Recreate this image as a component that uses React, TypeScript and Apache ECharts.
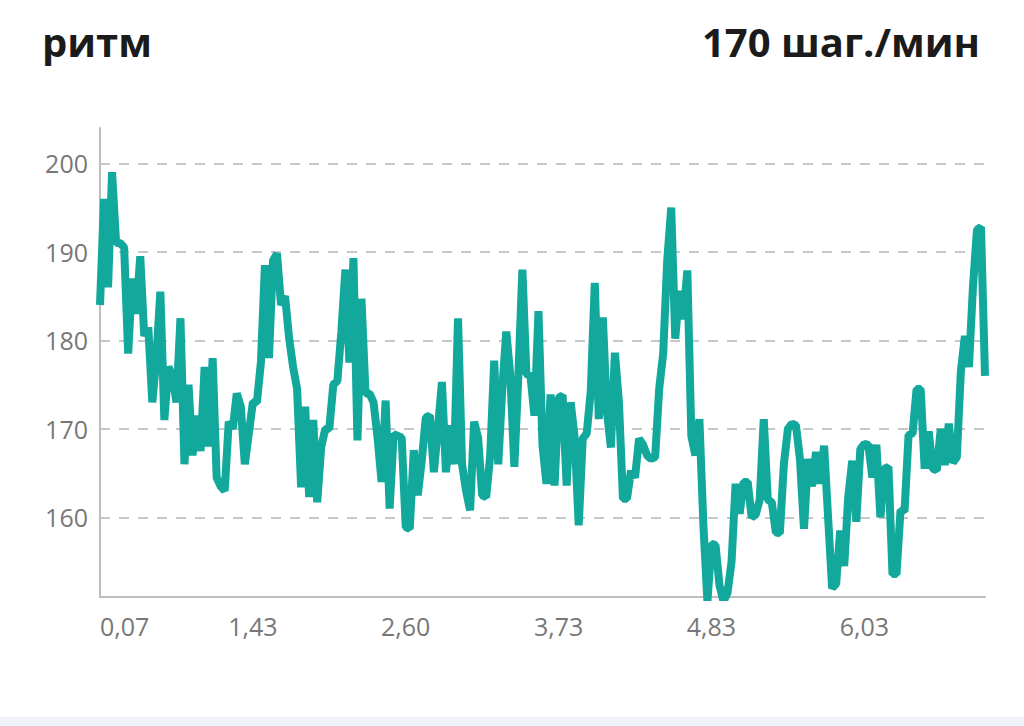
import React, { useEffect, useRef } from "react";
import * as echarts from "echarts";

const titleLeft = "ритм";
const titleRight = "170 шаг./мин";

const tickLabels = ["0,07", "1,43", "2,60", "3,73", "4,83", "6,03"];
const LABEL_STEP = 38;

const cadence = [
  184, 196, 186, 199, 191, 191, 190.5, 178.5, 187, 183,
  189.5, 180.5, 181.5, 173, 178, 185.5, 171, 177, 176, 173,
  182.5, 166, 175, 167, 171.5, 167.5, 177, 168, 178, 164.5,
  163.5, 163, 170.8, 170, 174, 172.5, 166, 169.5, 173, 173,
  177.5, 188.5, 178, 189, 189.8, 184, 185, 180.3, 177, 174.5,
  163.4, 172.5, 162.3, 171, 161.7, 168, 170, 170, 175, 175.4,
  181, 188, 177.5, 189.3, 168.7, 184.7, 174, 174, 173, 169,
  164, 173.2, 161, 169.4, 169.2, 169, 158.9, 158.7, 167.6, 162.5,
  166.5, 171.3, 171.5, 165.1, 170, 175.3, 165.1, 170.4, 166, 182.5,
  166, 163, 160.8, 170.8, 169, 162.5, 162.3, 167, 177.7, 166,
  174.5, 181, 176, 165.7, 176, 188, 176.2, 176, 171.5, 183.3,
  168.1, 163.8, 173.9, 163.6, 173.5, 173.8, 163.6, 173, 169, 159.1,
  168.9, 169.5, 174.3, 186.5, 171.1, 182.6, 172, 167.9, 178.6, 173,
  162.1, 162.1, 165.3, 164.5, 168.9, 168.2, 167, 166.6, 166.8, 174.5,
  178.5, 189, 195, 180.2, 185.6, 182.4, 187.9, 169.2, 167, 171.1,
  159.1, 150.5, 157, 156.9, 152.3, 150.5, 151.5, 155, 163.8, 160.4,
  164, 164, 160, 160.3, 162, 171.1, 162, 161.7, 158.3, 158.2,
  166, 170, 170.6, 170.4, 166.6, 158.7, 166.6, 163.5, 167.4, 163.8,
  168.1, 160, 152, 152.5, 158.5, 154.5, 162.3, 166.4, 159.5, 167.7,
  168.3, 168.2, 164.5, 168.2, 160, 165.5, 165.7, 153.6, 153.6, 160.8,
  160.7, 169.3, 169.5, 174.5, 174.5, 165.5, 169.7, 165.5, 165.3, 170,
  165.9, 170.6, 166.2, 166.8, 176.5, 180.5, 177, 186, 192.5, 192.8,
  176,
];

const categories = cadence.map((_, i) => String(i));

export default function App() {
  const ref = useRef<HTMLDivElement>(null);

  useEffect(() => {
    if (!ref.current) return;
    const chart = echarts.init(ref.current, undefined, { renderer: "svg" });
    const titleStyle = {
      fontFamily: "Open Sans",
      fontSize: 40,
      fontWeight: "bold",
      color: "#1b1b1b",
    };
    chart.setOption({
      animation: false,
      backgroundColor: "#ffffff",
      title: [
        { text: titleLeft, left: 37, top: 16, textStyle: titleStyle },
        { text: titleRight, right: 39, top: 16, textStyle: titleStyle },
      ],
      grid: { left: 100, right: 39, top: 128, bottom: 129 },
      xAxis: {
        type: "category",
        data: categories,
        boundaryGap: false,
        axisTick: { show: false },
        axisLine: { lineStyle: { color: "#bdbdbd", width: 2 } },
        axisLabel: {
          interval: LABEL_STEP - 1,
          margin: 16,
          alignMinLabel: "left",
          color: "#777777",
          fontFamily: "Open Sans",
          fontSize: 25,
          formatter: (_v: string, idx: number) =>
            tickLabels[Math.round(idx / LABEL_STEP)] ?? "",
        },
        splitLine: { show: false },
      },
      yAxis: {
        type: "value",
        min: 151,
        max: 204,
        axisLine: { show: true, lineStyle: { color: "#bdbdbd", width: 2 } },
        axisTick: { show: false },
        axisLabel: {
          showMinLabel: false,
          showMaxLabel: false,
          margin: 12,
          color: "#777777",
          fontFamily: "Open Sans",
          fontSize: 25,
        },
        splitLine: {
          show: true,
          showMinLine: false,
          showMaxLine: false,
          lineStyle: { color: "#b5b5b5", type: [10, 9], width: 1.5 },
        },
      },
      series: [
        {
          type: "line",
          data: cadence,
          symbol: "none",
          lineStyle: { color: "#12a89b", width: 8, join: "bevel" },
          z: 3,
        },
      ],
      graphic: [
        {
          type: "rect",
          shape: { x: 0, y: 717, width: 1024, height: 9 },
          style: { fill: "#eef2f6" },
          silent: true,
        },
      ],
    });
    return () => chart.dispose();
  }, []);

  return (
    <div
      ref={ref}
      style={{
        position: "fixed",
        left: 0,
        top: 0,
        width: 1024,
        height: 726,
        background: "#fff",
      }}
    />
  );
}
